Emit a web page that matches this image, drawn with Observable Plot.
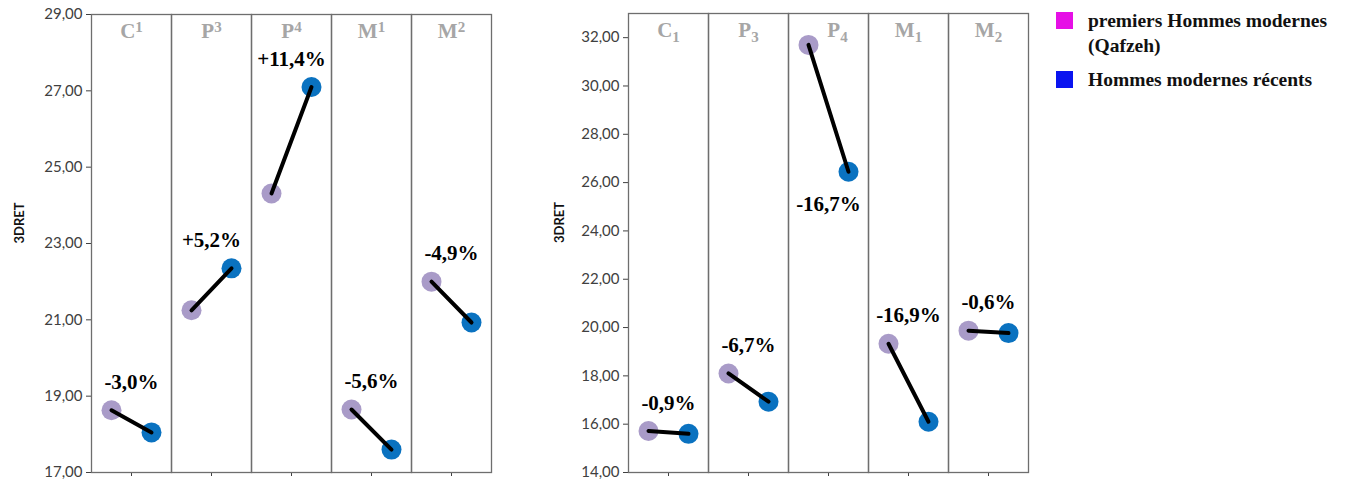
<!DOCTYPE html>
<html>
<head>
<meta charset="utf-8">
<script src="https://cdn.jsdelivr.net/npm/d3@7"></script>
<script src="https://cdn.jsdelivr.net/npm/@observablehq/plot@0.6"></script>
<style>
  html, body { margin: 0; padding: 0; background: #fff; }
  #wrap { position: relative; width: 1368px; height: 482px; overflow: hidden; }
  #left { position: absolute; left: 0; top: 0; }
  #right { position: absolute; left: 540px; top: 0; }
  #legend { position: absolute; left: 1056px; top: 8px; font-family: "Liberation Serif", "Times New Roman", serif; font-weight: bold; font-size: 19.5px; color: #111; }
  .li { position: relative; padding-left: 32px; line-height: 25px; }
  .sw { position: absolute; left: 0; top: 4px; width: 17px; height: 17px; }
</style>
</head>
<body>
<div id="wrap">
  <div id="left"></div>
  <div id="right"></div>
  <div id="legend">
    <div class="li"><span class="sw" style="background:#e60fe6"></span>premiers Hommes modernes<br>(Qafzeh)</div>
    <div class="li" style="margin-top:9px"><span class="sw" style="background:#0a14f0"></span>Hommes modernes récents</div>
  </div>
</div>
<script>
// ---- data ----
const groups = ["Qafzeh", "Récents"];
const groupColors = ["#a99bc8", "#0a72c0"];

// upper teeth (left panel)
const upperTeeth = ["C1", "P3", "P4", "M1", "M2"];
const upperBase = ["C", "P", "P", "M", "M"];
const upperIdx = ["1", "3", "4", "1", "2"];
const upperQafzeh = [18.63, 21.25, 24.31, 18.65, 22.00];
const upperRecent = [18.05, 22.35, 27.10, 17.60, 20.93];
const upperPct = ["-3,0%", "+5,2%", "+11,4%", "-5,6%", "-4,9%"];
const upperTicks = [17, 19, 21, 23, 25, 27, 29];
const upperLabelsBelow = [];

// lower teeth (right panel)
const lowerTeeth = ["C1", "P3", "P4", "M1", "M2"];
const lowerBase = ["C", "P", "P", "M", "M"];
const lowerIdx = ["1", "3", "4", "1", "2"];
const lowerQafzeh = [15.72, 18.10, 31.70, 19.33, 19.87];
const lowerRecent = [15.60, 16.93, 26.45, 16.10, 19.77];
const lowerPct = ["-0,9%", "-6,7%", "-16,7%", "-16,9%", "-0,6%"];
const lowerTicks = [14, 16, 18, 20, 22, 24, 26, 28, 30, 32];
const lowerLabelsBelow = ["P4"];

const fmt = d => d3.format(".2f")(d).replace(".", ",");
const MARK = "\u200B";

function panel({teeth, base, idx, qafzeh, recent, pct, ticks, below, yDomain, marginLeft, marginRight, marginTop, script, yLabelDx, headerShift}) {
  const points = [];
  teeth.forEach((t, i) => {
    points.push({tooth: t, group: groups[0], value: qafzeh[i]});
    points.push({tooth: t, group: groups[1], value: recent[i]});
  });
  const labels = teeth.map((t, i) => {
    const isBelow = below.includes(t);
    return {tooth: t, text: pct[i], below: isBelow,
            y: isBelow ? Math.min(qafzeh[i], recent[i]) : Math.max(qafzeh[i], recent[i])};
  });
  const headers = teeth.map((t, i) => ({tooth: t, text: MARK + base[i] + "|" + idx[i]}));
  const serif = "Liberation Serif, Times New Roman, serif";

  const svg = Plot.plot({
    width: 500,
    height: 482,
    marginLeft, marginRight, marginTop,
    marginBottom: 10,
    style: {fontFamily: "Lato, sans-serif", fontSize: "15px", color: "#404040", background: "white"},
    fx: {domain: teeth, padding: 0, axis: "bottom", label: null, tickFormat: () => "", tickSize: 4},
    x: {type: "point", domain: groups, padding: 0.5, axis: null},
    y: {domain: yDomain, ticks, tickFormat: fmt, label: null, tickSize: 5},
    color: {domain: groups, range: groupColors},
    marks: [
      Plot.frame({stroke: "#6e6e6e", strokeWidth: 1.3}),
      Plot.dot(points, {fx: "tooth", x: "group", y: "value", r: 10, fill: "group"}),
      Plot.line(points, {fx: "tooth", x: "group", y: "value", z: "tooth", stroke: "black", strokeWidth: 4}),
      Plot.text(labels.filter(d => !d.below), {fx: "tooth", y: "y", text: "text", dy: -28,
        fontFamily: serif, fontWeight: "bold", fontSize: 21, fill: "black"}),
      Plot.text(labels.filter(d => d.below), {fx: "tooth", y: "y", text: "text", dy: 33,
        fontFamily: serif, fontWeight: "bold", fontSize: 21, fill: "black"}),
      Plot.text(headers, {fx: "tooth", text: "text", frameAnchor: "top", lineAnchor: "middle", dy: 17,
        fontFamily: serif, fontWeight: "bold", fontSize: 21, fill: "#a6a6a6"}),
      Plot.text([{tooth: teeth[0], t: "3DRET"}], {fx: "tooth", text: "t", frameAnchor: "left", dx: yLabelDx,
        rotate: -90, fontFamily: "Lato, sans-serif", fontWeight: "bold", fontSize: 13, fill: "#111"})
    ]
  });

  // render tooth indices as super/subscripts
  let k = 0;
  d3.select(svg).selectAll("text").each(function() {
    const s = this.textContent;
    if (!s.startsWith(MARK)) return;
    const [b, n] = s.slice(1).split("|");
    this.textContent = b;
    d3.select(this).append("tspan")
      .attr("dy", script === "sup" ? "-0.4em" : "0.3em")
      .attr("font-size", "15px")
      .text(n);
    const shift = headerShift[teeth[k]] || 0;
    if (shift) this.setAttribute("dx", shift);
    k++;
  });
  return svg;
}

document.getElementById("left").appendChild(panel({
  teeth: upperTeeth, base: upperBase, idx: upperIdx, qafzeh: upperQafzeh, recent: upperRecent,
  pct: upperPct, ticks: upperTicks, below: upperLabelsBelow, yDomain: [17, 29],
  marginLeft: 90, marginRight: 8, marginTop: 14, script: "sup", yLabelDx: -72, headerShift: {}
}));
document.getElementById("right").appendChild(panel({
  teeth: lowerTeeth, base: lowerBase, idx: lowerIdx, qafzeh: lowerQafzeh, recent: lowerRecent,
  pct: lowerPct, ticks: lowerTicks, below: lowerLabelsBelow, yDomain: [14, 33],
  marginLeft: 87, marginRight: 11, marginTop: 13, script: "sub", yLabelDx: -69, headerShift: {P4: 9}
}));
</script>
</body>
</html>
